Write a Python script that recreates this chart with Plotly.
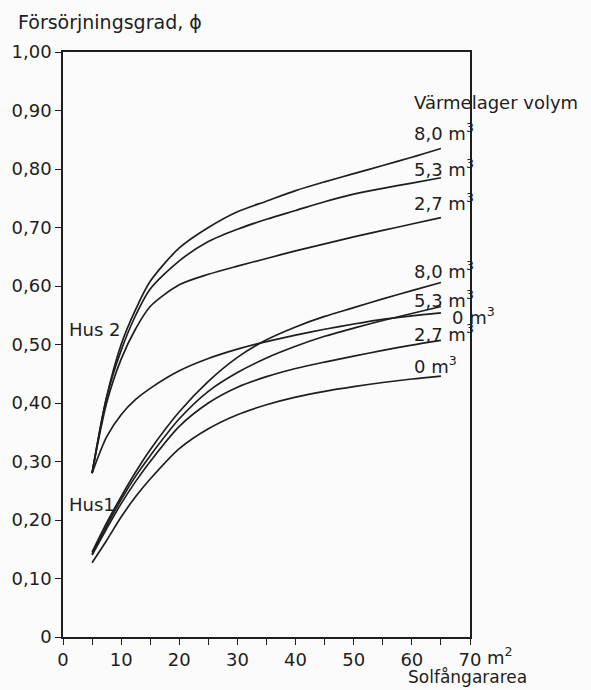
import plotly.graph_objects as go

# Solar collector area (m²) at which each curve is sampled
area = [5, 7.5, 10, 12.5, 15, 20, 25, 30, 35, 40, 45, 50, 55, 60, 65]

# Hus 2 – solar fraction for each storage volume
hus2_80 = [0.280, 0.410, 0.500, 0.560, 0.608, 0.665, 0.700, 0.727, 0.745, 0.763, 0.778, 0.792, 0.806, 0.820, 0.835]
hus2_53 = [0.280, 0.410, 0.490, 0.550, 0.595, 0.643, 0.676, 0.697, 0.714, 0.729, 0.744, 0.757, 0.767, 0.776, 0.785]
hus2_27 = [0.280, 0.400, 0.475, 0.527, 0.565, 0.602, 0.620, 0.634, 0.647, 0.660, 0.672, 0.684, 0.695, 0.706, 0.717]
hus2_0 = [0.280, 0.342, 0.380, 0.406, 0.425, 0.455, 0.476, 0.492, 0.505, 0.516, 0.526, 0.535, 0.543, 0.549, 0.554]

# Hus 1 – solar fraction for each storage volume
hus1_80 = [0.145, 0.195, 0.240, 0.282, 0.320, 0.385, 0.437, 0.478, 0.508, 0.530, 0.548, 0.563, 0.578, 0.592, 0.606]
hus1_53 = [0.142, 0.190, 0.235, 0.275, 0.310, 0.373, 0.420, 0.452, 0.477, 0.497, 0.514, 0.528, 0.541, 0.553, 0.565]
hus1_27 = [0.140, 0.185, 0.228, 0.266, 0.300, 0.360, 0.400, 0.427, 0.445, 0.459, 0.470, 0.480, 0.490, 0.499, 0.507]
hus1_0 = [0.127, 0.165, 0.205, 0.240, 0.270, 0.322, 0.356, 0.380, 0.397, 0.410, 0.420, 0.428, 0.435, 0.441, 0.446]

y_ticks = [0, 0.1, 0.2, 0.3, 0.4, 0.5, 0.6, 0.7, 0.8, 0.9, 1.0]
y_labels = ["0", "0,10", "0,20", "0,30", "0,40", "0,50", "0,60", "0,70", "0,80", "0,90", "1,00"]
x_ticks = [0, 5, 10, 15, 20, 25, 30, 35, 40, 45, 50, 55, 60, 65, 70]
x_labels = ["0", "", "10", "", "20", "", "30", "", "40", "", "50", "", "60", "", "70"]

# Curve end labels: (text, x, y)
end_labels = [
    ("8,0 m<sup>3</sup>", 60.1, 0.864),
    ("5,3 m<sup>3</sup>", 60.1, 0.802),
    ("2,7 m<sup>3</sup>", 60.1, 0.744),
    ("8,0 m<sup>3</sup>", 60.1, 0.627),
    ("5,3 m<sup>3</sup>", 60.1, 0.578),
    ("0 m<sup>3</sup>", 66.6, 0.548),
    ("2,7 m<sup>3</sup>", 60.1, 0.520),
    ("0 m<sup>3</sup>", 60.1, 0.465),
]

FONT = "DejaVu Sans"
INK = "#1e1e1e"
SIZE = 18

fig = go.Figure()
for ys in [hus2_80, hus2_53, hus2_27, hus2_0, hus1_80, hus1_53, hus1_27, hus1_0]:
    fig.add_trace(go.Scatter(
        x=area, y=ys, mode="lines",
        line=dict(color=INK, width=1.7, shape="spline", smoothing=0.8),
        showlegend=False, hoverinfo="skip",
    ))

annotations = []
for text, xv, yv in end_labels:
    annotations.append(dict(x=xv, y=yv, xref="x", yref="y", text=text,
                            showarrow=False, xanchor="left", yanchor="middle"))
annotations += [
    dict(x=60.0, y=0.913, xref="x", yref="y", text="Värmelager volym",
         showarrow=False, xanchor="left", yanchor="middle"),
    dict(x=0.7, y=0.525, xref="x", yref="y", text="Hus 2",
         showarrow=False, xanchor="left", yanchor="middle"),
    dict(x=0.7, y=0.226, xref="x", yref="y", text="Hus1",
         showarrow=False, xanchor="left", yanchor="middle"),
    dict(x=-0.1165, y=1.051, xref="paper", yref="paper", text="Försörjningsgrad, ϕ",
         showarrow=False, xanchor="left", yanchor="middle", font=dict(size=19)),
    dict(x=1.036, y=-0.032, xref="paper", yref="paper", text="m<sup>2</sup>",
         showarrow=False, xanchor="left", yanchor="middle"),
    dict(x=0.842, y=-0.068, xref="paper", yref="paper", text="Solfångararea",
         showarrow=False, xanchor="left", yanchor="middle", font=dict(size=17)),
]

fig.update_layout(
    width=591, height=690,
    margin=dict(l=58, r=121, t=52, b=53),
    paper_bgcolor="#fbfbfb", plot_bgcolor="#fbfbfb",
    font=dict(family=FONT, size=SIZE, color=INK),
    annotations=annotations,
)
fig.update_xaxes(
    range=[0, 70], showgrid=False, zeroline=False,
    showline=True, linecolor=INK, linewidth=1.5, mirror=True,
    tickmode="array", tickvals=x_ticks, ticktext=x_labels,
    ticks="outside", ticklen=6, tickwidth=1.2, tickcolor=INK,
    tickfont=dict(family=FONT, size=SIZE, color=INK),
)
fig.update_yaxes(
    range=[0, 1.0], showgrid=False, zeroline=False,
    showline=True, linecolor=INK, linewidth=1.5, mirror=True,
    tickmode="array", tickvals=y_ticks, ticktext=y_labels,
    ticks="outside", ticklen=6, tickwidth=1.2, tickcolor=INK,
    tickfont=dict(family=FONT, size=SIZE, color=INK),
)

fig.write_html("out.html")
